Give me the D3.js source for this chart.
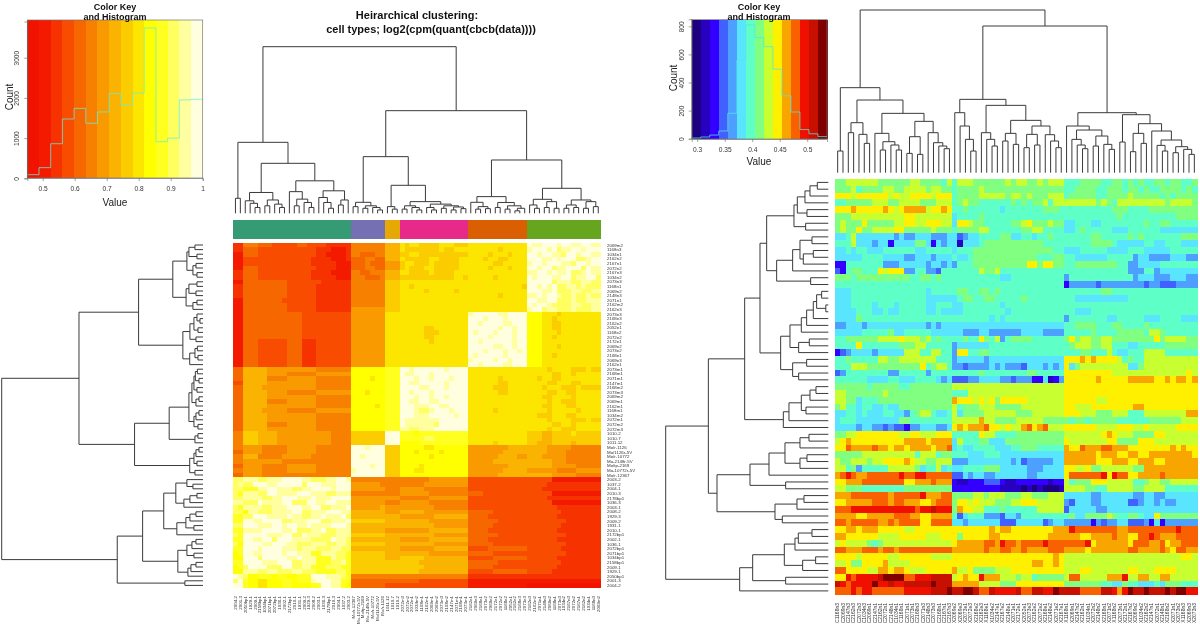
<!DOCTYPE html>
<html><head><meta charset="utf-8"><style>html,body{margin:0;padding:0;background:#fff}svg{display:block;font-family:"Liberation Sans",Arial,sans-serif;filter:blur(0.4px)}</style>
<script src="https://cdn.jsdelivr.net/npm/d3@7"></script></head><body><svg id="c" width="1200" height="628"></svg>
<script>
// ---------- data ----------
const heatPalette=["#f21200","#f41a00","#f63200","#f84c00","#f76700","#f88000","#f99a00","#fab300","#fbcc00","#fce600","#ffff00","#ffff20","#ffff60","#ffff9f","#ffffdf"];
const jetPalette=["#1c007f","#2800c0","#3300ff","#4060ff","#4da0ff","#5ae5ff","#5fffc8","#80ff80","#c8ff30","#fff000","#f8a500","#f86000","#f01000","#c81000","#800000"];
const sideBarColors=["#349b74","#7570b3","#e6a805","#e72a8a","#d95f02","#66a61e"];
const leftGroups=[24,7,3,14,12,15];
const rightGroups=[22,21,25];
const leftHist=[90,265,860,1475,1740,1370,1650,2105,1825,2120,3740,910,1000,1950,1965];
const rightHist=[5,12,26,55,181,560,810,720,655,495,305,190,65,35,15];
const leftTicksX=[0.5,0.6,0.7,0.8,0.9,1];
const leftTicksY=[0,1000,2000,3000];
const rightTicksX=[0.3,0.35,0.4,0.45,0.5];
const rightTicksY=[0,200,400,600,800];
const titleLines=["Heirarchical clustering:","cell types; log2(cpm(quant(cbcb(data))))"];
const rowLabels=["2069m2","1168n3","1034n1","2162n2","2167n1","2072n2","2167n3","1034n2","2073n3","1168n1","2069n2","2148n3","2071n1","2162m2","2162n3","2073e3","2168e3","2162e2","2052e1","1168e2","2072e2","2172e1","2069e2","2073e2","2168e1","2069e3","2162e1","2073m1","2168m1","2071m1","2147m1","2168m2","2073m3","2069m2","2069m1","2162m1","1168m1","1034m2","2072m1","2072m2","2072m3","1010-2","1010-7","1011.12","Mo/r-1126","Mo/1126r-5V","Mo/r-10772","Mo-2148r-5V","Mo/tp-2169","Mo-10772r-5V","Mo/r-12367","2003-2","1037-2","2004-1","2010-3","2178bp1","1036-3","2003-1","2008-2","1929-3","2009-2","1931-1","2010-1","2172bp1","2002-1","1036-1","2072bp1","2071bp1","1034bp1","2158bp1","2009-1","1929-1","2050bp1","2001-3","2004-2"];
const colLabelsRight=["C1168n3","C2069n3","C2147n3","C2162n3","C2072n3","C1034n3","C2069n1","C2147n1","C2162n1","C2072n1","C2148n1","C1034n1","C1168n1","C2071n1","C2073n1","C2168n3","C2071n3","C2148n3","C2073n3","C2168n1","C2167n1","C2167n3","X2069e2","X2069e3","X2073e1","X2072e3","X2168e2","X2162e3","X1168e1","X1034e2","X2147e1","X2167e2","X2148e1","X2071e1","X2172e1","X2052e1","X2073e3","X2162e2","X2072e2","X2168e1","X2148e2","X2071e2","X2167e1","X1168n1","X2069n1","X2147n2","X2162n1","X1034n1","X2072n2","X2148n2","X2168n1","X2071n2","X1168n2","X2073n1","X2172n1","X2167n2","X2069n2","X1034n2","X2162n2","X2147n1","X2072n1","X2148n1","X2168n2","X2071n1","X2073n2","X1168n3","X2069n3","X2073n3"];

// level runs per row: first character is the colour level (hex), the rest the run length; "|" separates column groups
const leftRows=[
"22 53 43 35 42 34 26|57|73|91 81 92 84 93 83|912|e1 d2 e3 d1 e2 d2 e2 d2",
"22 43 36 32 34 23 13 22|57|73|91 87 91 82 93|96 81 95|d1 e3 d1 e1 c1 d2 e2 d1 e3",
"12 43 36 32 34 22 14 22|52 43 52|73|82 92 86 82 82|94 81 93 81 93|e2 d1 e2 d2 c1 e2 d1 e2 d2",
"12 33 35 33 33 24 13 22|43 52 42|73|91 85 92 83 81 92|93 81 92 82 94|e3 d2 e1 d1 e3 c2 d1 e2",
"12 33 36 32 33 25 14|43 51 43|63|81 92 83 91 83 82 92|95 82 95|d1 e2 d1 e3 d2 c1 e2 d1 e2",
"12 43 35 33 34 24 14|43 52 42|63|81 91 83 92 85 92|94 81 93 81 93|e2 d1 e2 c1 d2 e3 c1 e1 d2",
"22 43 36 32 33 24 15|52 42 53|73|92 84 91 84 93|912|d2 e2 d1 e1 d2 e1 c2 d1 e1 d2",
"22 43 36 33 32 25 14|53 43 51|73|87 81 83 92 81|95 81 96|e1 d1 e3 d2 e2 c1 d2 e2 c1",
"12 43 46 33 34 27|57|83|914|912|e5 c1 d3 c2 d2 c2",
"22 43 46 33 33 28|57|83|92 81 911|911 81|e2 d1 e1 d1 e1 c2 d2 c1 d1 c3",
"22 43 46 32 34 28|57|83|95 81 95 81 92|912|e3 d2 e1 c3 d2 c2 d2",
"22 43 46 33 33 28|57|83|914|96 81 95|d2 e1 d1 e2 d1 c2 d1 c2 d1 c2",
"12 43 45 34 33 28|57|83|914|912|e2 d2 e2 c3 d1 c2 d3",
"12 43 46 33 33 28|57|83|914|912|e1 d1 e2 d1 c4 d2 c2 d2",
"12 43 46 33 33 28|67|83|914|912|d1 e2 c1 d2 c3 d1 c3 d2",
"12 43 46 43 33 38|67|93|914|d1 e5 d2 e4|a3 93 81 98",
"12 43 46 43 33 38|67|93|914|e3 d1 e3 d1 e4|a3 92 81 99",
"12 43 46 43 33 38|67|93|914|e2 d1 e4 d2 e3|a3 92 82 98",
"12 43 46 43 33 38|67|93|95 82 97|e6 d1 e2 d1 e2|a3 92 82 98",
"12 43 46 43 33 38|67|93|95 83 96|e1 d1 e3 d1 e3 d1 e2|a3 93 81 98",
"12 43 46 43 33 38|67|93|95 82 97|e4 d1 e4 d1 e2|a3 92 81 99",
"12 43 36 43 23 38|67|93|96 81 97|e2 d1 e6 d1 e2|a3 915",
"12 43 36 43 23 38|67|93|914|e5 d2 e2 d1 e2|a3 93 81 98",
"12 43 36 43 23 38|67|93|914|e3 d1 e3 d1 e2 d1 e1|a3 912",
"12 43 36 43 23 38|67|93|914|e1 d1 e5 d1 e4|a3 92 81 99",
"12 43 36 43 23 38|67|93|914|d1 e4 d1 e2 d1 e3|a3 912",
"12 43 36 43 23 38|67|93|914|e2 d1 e4 d2 e3|a3 912",
"42 75 64 66 58|a7|b3|e2 d1 e6 d1 e4|912|94 81 94 83 91 82",
"42 75 64 56 68|a7|b3|e1 d2 e3 d1 e7|912|95 82 92 81 95",
"42 75 54 66 58|a4 91 a2|b3|e3 d1 e2 d1 e3 d1 e3|96 81 95|92 81 92 82 96",
"32 75 64 66 58|a7|b3|e2 d2 e5 d1 e4|96 82 94|94 82 93 82 94",
"42 74 65 66 58|a7|b3|e4 d2 e3 d1 e4|95 83 94|93 81 93 83 91 84",
"42 75 64 56 68|a3 91 a3|b3|e2 d1 e3 d1 e7|96 82 94|94 82 92 82 95",
"42 75 64 66 58|a7|b3|e3 d1 e2 d1 e2 d1 e4|912|93 82 94 81 95",
"42 75 54 66 58|a7|b3|e2 d2 e2 d2 e6|912|94 81 92 83 95",
"42 75 64 66 58|a5 91 a1|b3|e3 d3 e2 d2 e4|912|93 82 93 82 95",
"42 74 65 56 68|a7|b3|e3 d1 c2 d1 e3 d1 e3|95 81 96|94 81 95 81 94",
"42 75 64 66 58|a7|b3|e3 d3 e5 d1 e2|912|92 83 93 82 95",
"42 75 64 66 58|a7|b3|e1 d7 e6|912|94 81 94 83 91 82",
"42 75 54 66 58|a7|b3|e1 d6 c1 e6|912|95 82 92 81 95",
"42 75 64 66 58|a7|b3|d2 c2 d3 e7|912|94 81 92 83 95",
"52 83 74 66 65 55|87|e3|b3 a1 b10|912|83 72 84 91 85",
"52 83 74 66 65 55|87|e3|b5 c2 b7|912|83 72 85 82 83",
"52 83 74 66 65 55|87|e3|a4 b10|95 81 96|82 73 84 71 85",
"52 64 55 66 58|e3 d1 e3|83|a5 92 a7|68 74|74 65 56",
"42 64 55 66 58|e7|83|a3 91 a4 91 a5|67 75|74 64 57",
"52 73 55 66 59|e2 d1 e4|83|a6 91 a7|66 74 62|73 65 57",
"52 64 64 56 59|e7|83|a14|65 77|75 63 57",
"42 64 55 66 58|e4 d1 e2|83|a4 91 a9|68 74|75 65 55",
"52 64 55 66 58|d1 e6|83|a3 92 a9|67 75|66 54 65",
"42 64 55 57 57|e7|83|a14|66 76|75 65 55",
"c2 d3 c2 d3 e4 d2 c3 d2 e2 d2|57|53|56 68|34 38|35 110",
"c1 d1 c2 e3 d2 e5 c1 e3 d3 e4|66 51|53|55 69|35 37|34 211",
"c2 b3 d2 e2 d3 c2 d2 e4 d1 e4|67|53|65 59|33 39|33 212",
"c1 b1 d3 c2 e2 d4 e3 d3 c2 d4|57|53|66 58|43 39|35 110",
"c2 d4 c2 d2 e3 d3 e1 d3 e4 d1|67|63|56 68|34 38|34 211",
"d2 c3 e1 d4 e2 c3 e2 d2 e2 d3 c1|67|53|66 58|35 37|35 110",
"c1 b1 d4 c2 d3 e3 d2 e2 c2 d3 e2|66 71|63|67 57|34 38|36 29",
"c2 a1 d2 c3 d4 e2 c2 d3 e3 d3|77|63|75 69|45 37|37 28",
"b2 c2 e3 d4 e1 d2 c2 d2 e1 d3 e1 c2|77|73|67 77|44 38|36 29",
"b2 e2 d2 e4 c2 d3 e3 c2 d3 e2|87|73|76 68|46 36|38 27",
"c2 e3 d3 e2 d1 e2 d2 e1 d4 e3 d2|77|73|77 67|45 37|37 28",
"b2 d4 e4 d2 e1 c3 d2 e1 c2 d4|77|63|66 78|44 38|36 29",
"c1 b1 e5 d3 e2 c2 e1 d3 c3 d4|87|73|77 67|46 36|38 27",
"b2 e2 d2 e2 c1 e3 d4 c4 e1 d2 c2|77|73|66 78|44 38|36 29",
"c1 a1 e4 d2 e3 d2 c3 d3 c2 d2 c2|87|73|77 67|45 37|38 27",
"b2 e3 d1 e4 d3 c1 d3 c3 d2 c3|77|73|67 77|34 48|37 28",
"a1 b1 e2 d2 e4 d1 e2 d3 b2 d3 c2 b2|87|73|76 68|45 37|38 27",
"a2 e3 c1 e5 d2 e1 d3 b3 d1 c2 b2|87|73|85 79|35 47|36 29",
"b2 e4 d3 e3 c2 d3 b3 c2 d1 b2|87|83|84 710|46 36|37 28",
"a1 b1 c1 e4 c3 e2 c2 d2 b3 c3 b3|87|83|85 79|45 37|36 29",
"a2 d3 c2 d2 c3 d2 c3 b4 c2 b2|87|83|84 710|35 47|35 210",
"e1 d1 c1 a2 b3 a1 b2 a2 b3 e3 d3 c1 b1|57|53|514|212|215",
"c1 e1 b1 a2 92 a3 b2 a1 b3 d1 e3 d2 b2|47|43|44 310|112|115",
"e2 b1 a2 92 a3 b2 a4 b2 e2 d2 b1 a1|47|33|314|112|015"
];
const rightRows=[
"72 86 76 82 74 61 81|61 83 76 81 71 82 72 81 71 83|63 74 62 72 61 71 61 71 62 72 61 72 62 71",
"73 81 61 74 82 72 84 71 82 71|61 74 81 715|62 74 62 73 61 72 61 71 62 74 61 71 61",
"93 81 96 81 91 82 94 81 93|61 74 85 71 82 71 81 73 83|61 75 62 74 81 75 61 71 61 74",
"62 75 83 72 84 73 83|61 71 81 72 66 71 61 71 61 72 81 61 82|86 71 81 71 61 89 71 84 71",
"93 a1 95 a1 91 81 91 a4 81 92 a1 91|62 71 66 51 67 73 61|69 73 64 79",
"73 810 92 87|51 64 71 615|610 71 610 74",
"71 81 73 91 71 74 82 92 82 93 82|51 92 81 72 65 72 81 91 73 81 72|52 63 52 68 71 62 72 65",
"71 81 72 91 72 84 92 75 81 73|61 74 82 66 72 82 64|52 61 71 65 53 66 57",
"52 61 81 57 41 51 42 53 43 51|51 31 41 52 64 72 52 62 51 62 71 62|65 72 65 71 61 71 67 73",
"63 81 53 41 52 21 54 72 51 21 51 41 51|51 11 53 61 711 64|65 74 61 55 62 52 63 53",
"52 61 51 62 53 66 52 65|51 63 715 62|53 65 54 63 55 65",
"55 64 54 42 53 41 53|61 52 61 712 63 72|62 56 65 41 52 44 53 42",
"22 67 43 55 41 52 41 51|41 63 710 92 71 92 72|62 78 62 42 54 67",
"31 21 61 72 63 91 81 93 42 62 42 31 62|65 81 72 81 612|612 43 62 41 57",
"73 61 710 62 72 61 71 62|69 52 610|41 612 41 53 43 53 41 41",
"622|621|21 45 31 48 31 42 33 44",
"53 614 51 64|61 72 62 72 61 71 612|67 72 616",
"53 614 55|51 61 72 62 72 65 71 67|62 510 613",
"53 64 51 63 51 65 52 63|52 67 51 611|625",
"54 63 52 61 52 65 52 61 52|52 68 51 610|62 53 620",
"54 71 617|65 62 51 61 51 611|41 67 52 65 53 64 53",
"42 53 41 511 41 51 41 52|521|62 74 63 72 64 71 69",
"55 65 71 52 65 54|52 43 52 46 54 44|65 71 64 75 61 82 71 66",
"62 76 84 91 83 71 81 61 71 62|62 71 62 91 71 61 81 41 61 74 61 65|71 91 71 82 72 82 78 91 71 84 72",
"64 91 67 73 82 65|41 56 614|61 71 83 72 82 63 52 65 76",
"21 31 41 54 41 55 83 62 82 62|41 92 62 72 614|63 72 63 81 61 52 63 84 66",
"62 71 65 82 72 87 63|41 55 41 514|93 a1 91 a1 94 81 61 71 62 810",
"63 83 710 91 61 71 82 61|42 31 44 51 41 51 43 31 53 41 51 41 51|91 51 71 89 52 71 810",
"31 41 68 42 65 41 64|65 71 68 72 65|99 814 91 81",
"66 54 62 53 64 51 41 51|33 42 54 42 31 43 22 51 11 21 41|96 a1 95 a5 92 a1 91 a2 91 a1",
"76 61 75 62 78|821|925",
"82 77 81 712|63 818|925",
"82 72 51 63 76 78|a1 93 81 91 81 91 71 95 87|96 82 917",
"71 81 62 51 62 52 61 52 710|81 61 73 83 75 88|92 83 98 a2 910",
"52 62 51 61 53 62 52 41 61 71 82 61 52 61|81 51 74 86 73 86|93 83 73 83 63 88 a2",
"51 63 58 72 62 66|85 a1 82 74 85 74|71 61 72 61 75 64 62 72 71 73 83",
"54 41 52 42 31 41 32 21 42 53 42 51|91 a1 91 a3 b1 92 81 91 82 a1 b1 91 a1 b1 83|96 84 93 82 91 85 94",
"72 82 98 82 92 83 93|65 91 82 64 79|87 91 a1 91 83 74 92 82 84",
"81 91 a1 910 a4 91 a4|51 81 63 72 53 74 77|91 87 92 74 93 82 86",
"92 b1 a1 a3 b1 a2 91 a2 91 a4 91 a2 b1|51 61 52 64 53 62 73 65|a1 92 b1 a3 b2 a3 98 a1 91 a1 92",
"75 810 61 83 61 72|63 53 63 512|a6 91 a3 92 a2 92 a8 91",
"81 72 83 71 82 94 a1 91 82 72 83|43 58 41 51 31 45 52|a6 93 a3 92 a3 92 a6",
"82 61 71 41 65 85 71 51 62 81 51 61|52 64 73 52 53 43 54|92 82 91 72 83 83 72 a10",
"a1 b1 c1 b1 a2 b6 c1 b2 c2 b5|32 51 41 52 42 56 42 55|91 b6 c1 91 c1 b2 92 a4 b1 a6",
"92 a3 b8 92 a3 b1 a3|21 12 23 33 21 12 26 11 22|81 61 73 93 85 62 71 82 72 85",
"82 73 63 65 79|29 14 01 11 01 11 03 11|84 72 62 85 72 84 66",
"a3 b7 a1 b5 c1 a3 b2|74 82 71 83 73 82 73 83|55 42 56 42 52 42 56",
"92 a5 b3 a1 b2 a3 92 a1 b3|71 92 81 91 83 73 82 93 85|41 31 53 42 55 32 41 52 41 51 42 54",
"b3 c12 b1 c2 d1 c3|71 a1 92 82 63 71 66 85|31 55 42 517",
"a4 92 a5 b3 a2 92 a4|61 31 51 63 43 31 52 41 68|61 71 52 74 81 71 62 72 61 52 91 71 76",
"b2 a1 b5 a2 b1 a1 b4 92 b4|52 41 56 31 32 55 31 41 52|45 21 41 31 42 52 33 41 21 51 21 46",
"92 a2 91 a3 95 82 97|97 a1 91 a2 98 a2|a1 c1 b8 a2 b9 c1 b3",
"a2 96 84 95 83 92|91 71 95 a2 99 a3|a3 92 a4 b1 a2 92 b2 c1 b1 a3 b4",
"81 91 84 71 61 71 84 89|91 a5 b2 a1 c1 b2 a1 b4 c1 b3|b4 c1 91 a6 91 b3 a2 b1 91 a2 b3",
"b2 a3 b3 a1 b2 a1 b10|a6 b1 a2 b2 a2 b1 a3 a1 b3|a4 91 a7 b2 a4 b1 a1 91 b2 a2",
"94 81 95 82 96 84|919 a1 91|822 92 81",
"82 91 72 94 a1 84 98|915 a2 92 a1 91|825",
"b2 94 82 a2 91 a2 91 83 95|a1 82 91 74 83 910|83 92 87 92 83 94 84",
"92 c1 b1 c4 d1 e4 b2 c3 d4|81 91 a1 92 c1 a3 83 71 82 61 75|81 b2 85 a3 c1 82 a2 82 a2 83",
"d1 c1 b1 c4 e1 c2 d1 c2 d5 e1 d3|a5 84 73 99|77 62 52 71 62 53 61 51 73 63",
"b3 c1 b1 c2 b6 c3 c2 d3 e1|d2 e2 d1 b2 d1 c4 d1 b2 d2 c2 e1 d1|d3 b4 d2 c1 a1 c1 e1 d2 e1 d3 e1 d1 e2 c2"
];

// merge trees: [merge height, child, child]; 0 is a leaf
const leftTree=[100,
 [42.6,[9,0,0],[30,
   [12.5,[7.5,0,[6,0,[3.5,0,0]]],[8,[4.5,0,0],[5.5,0,[3.5,0,0]]]],
   [19.5,[13,0,[8.5,[4.5,0,0],[6.5,0,[3.5,0,0]]]],[13.5,[9.5,0,[6.5,0,[3,0,0]]],[8,[5,0,0],0]]]]],
 [61.6,
  [34,[6.6,[4,0,0],[4.5,[3,0,0],[3.5,0,[2,0,0]]]],
      [16.8,[4,0,[2.5,0,0]],
       [7,[4.5,[2.5,0,0],[3.5,0,[2,0,0]]],[5.5,[3.5,0,[2,0,0]],[4.5,[3,0,0],[3.8,[2,0,0],[2.8,0,0]]]]]]],
  [32,[10,[6.6,0,[4,[2.5,0,0],[2.8,0,0]]],[6.5,[3.5,0,0],[4.5,[2.5,0,0],[3,[1.5,0,0],0]]]],
      [15,[8.4,[5,0,[3,0,0]],[7,[3.5,0,0],[3,0,0]]],[8,[5,[3,0,0],[3.5,0,0]],[7,[3,0,0],[4,0,0]]]]]]];

const rightColTree=[97.6,
 [51,[13,0,0],[43.6,
   [30,[24,0,0],[23,0,[17.6,0,0]]],
   [35.6,[23.6,0,[18.6,[13.6,0,0],[16.6,0,[13.6,0,0]]]],
         [30.8,[21.6,[11.6,0,0],[11,0,0]],[24,0,[18,0,[16,0,[14.4,0,0]]]]]]]],
 [88,
  [44,[36,0,[28,0,[20,0,[13,0,0]]]],
      [40.4,[24,0,[20,0,[16,0,0]]],
       [31.4,[23.6,[19,0,0],[17,0,0]],
        [28,[23,[15,0,0],[16.6,0,0]],[22.8,0,[19,0,[15,0,0]]]]]]],
  [36,[28,0,[25.6,[20,0,[16.6,0,[14.4,0,0]]],[22,[16,0,0],[17,0,[14,0,0]]]]],
      [34.8,[18.4,0,0],[29.4,[23.6,[12.6,0,0],[17.6,0,0]],
        [25,0,[19.6,[16.4,0,[13,0,0]],[15.6,[12,0,0],[14,0,[11,0,0]]]]]]]]]];

const rightRowTree=[97.6,
 [72,
  [50.2,
   [41,
    [37,
     [20.6,[18.6,[14,[11,[6.6,0,0],0],0],[12.8,0,0]],[13.6,0,0]],
     [31,[21.4,[17,[9.8,0,0],[15,[9,0,0],0]],0],[10.6,0,0]]],
    [28.6,
     [23,[16.2,[13,[9,[7,[4,0,0],[1.5,0,0]],0],0],0],[17.8,[11.4,0,0],0]],
     [21.4,[13,0,0],[17.8,0,0]]]],
   [27,[23.6,[16.2,[11,[7.4,0,0],0],[13.4,0,0]],0],0]],
  [66.8,
   [47,[35.6,[26,[17,[11.6,0,0],0],[17,[12.8,0,0],0]],0],[25.6,0,0]],
   [32,[18.8,[14.6,0,0],0],[27.6,0,0]]]],
 [53.2,
  [45.4,
   [26.4,[20,[18,[9.8,0,0],0],0],[15.4,[7.6,0,0],0]],
   [25.6,0,0]],
  0]];

// ---------- helpers ----------
const svg=d3.select("#c");
svg.append("rect").attr("width",1200).attr("height",628).attr("fill","#fff");
function expand(row,sizes){
  return row.split("|").flatMap((seg,i)=>{
    const out=[];
    seg.trim().split(/\s+/).forEach(t=>{const lv=parseInt(t[0],16),n=+t.slice(1);for(let k=0;k<n;k++)out.push(lv);});
    while(out.length<sizes[i])out.push(out[out.length-1]);
    return out.slice(0,sizes[i]);
  });
}
function drawMatrix(rows,sizes,palette,x0,x1,y0,y1){
  const nCol=d3.sum(sizes),matrix=rows.map(r=>expand(r,sizes));
  const x=d3.scaleLinear().domain([0,nCol]).range([x0,x1]);
  const y=d3.scaleLinear().domain([0,matrix.length]).range([y0,y1]);
  const cells=matrix.flatMap((r,i)=>r.map((v,j)=>({i,j,v})));
  svg.append("g").attr("shape-rendering","crispEdges").selectAll("rect").data(cells).join("rect")
    .attr("x",d=>x(d.j)).attr("y",d=>y(d.i))
    .attr("width",x(1)-x(0)+0.6).attr("height",y(1)-y(0)+0.6)
    .attr("fill",d=>palette[d.v]);
  return {x,y};
}
function toNode(t){return Array.isArray(t)?{h:t[0],children:[toNode(t[1]),toNode(t[2])]}:{h:0};}
function drawTree(tree,horizontal,hScale,leafPos){
  const root=d3.hierarchy(toNode(tree));
  const n=root.leaves().length;
  root.leaves().forEach((l,i)=>{l.p=leafPos(i,n);});
  root.eachAfter(nd=>{if(nd.children)nd.p=(nd.children[0].p+nd.children[1].p)/2;});
  const segs=[];
  root.each(nd=>{if(nd.children){
    const [a,b]=nd.children,H=hScale(nd.data.h);
    segs.push([[a.p,hScale(a.data.h)],[a.p,H],[b.p,H],[b.p,hScale(b.data.h)]]);
  }});
  const line=d3.line().x(d=>horizontal?d[1]:d[0]).y(d=>horizontal?d[0]:d[1]);
  svg.append("g").selectAll("path").data(segs).join("path")
    .attr("d",line).attr("fill","none").attr("stroke","#3a3a3a").attr("stroke-width",1);
}
function drawKey(o){
  const x=d3.scaleLinear().domain(o.xDomain).range(o.xRange);
  const y=d3.scaleLinear().domain([0,o.yMax]).range([o.yBase,o.yBase-o.yMax*o.yPx]);
  const binW=(o.xDomain[1]-o.xDomain[0])/o.palette.length;
  const g=svg.append("g");
  g.append("g").attr("shape-rendering","crispEdges").selectAll("rect").data(o.palette).join("rect")
    .attr("x",(d,i)=>x(o.xDomain[0]+i*binW)).attr("width",x(o.xDomain[0]+binW)-x(o.xDomain[0])+0.5)
    .attr("y",o.top).attr("height",o.bottom-o.top).attr("fill",d=>d);
  const pts=[];
  o.hist.forEach((c,i)=>{pts.push([x(o.xDomain[0]+i*binW),y(c)],[x(o.xDomain[0]+(i+1)*binW),y(c)]);});
  g.append("path").attr("d",d3.line()(pts)).attr("fill","none").attr("stroke",o.trace).attr("stroke-width",1).attr("opacity",0.75);
  g.append("rect").attr("x",o.xRange[0]).attr("y",o.top).attr("width",o.xRange[1]-o.xRange[0]).attr("height",o.bottom-o.top)
    .attr("fill","none").attr("stroke","#777").attr("stroke-width",0.7);
  const ax=d3.axisBottom(x).tickValues(o.ticksX).tickFormat(d3.format("")).tickSize(3).tickPadding(5);
  const gx=g.append("g").attr("transform",`translate(0,${o.bottom})`).call(ax);
  const ay=d3.axisLeft(y).tickValues(o.ticksY).tickSize(3).tickFormat(d3.format("d"));
  const gy=g.append("g").attr("transform",`translate(${o.xRange[0]},0)`).call(ay);
  [gx,gy].forEach(s=>{s.select(".domain").attr("stroke","#666").attr("stroke-width",0.6);
    s.selectAll("line").attr("stroke","#666").attr("stroke-width",0.6);
    s.selectAll("text").attr("font-size",6.6).attr("fill","#333").attr("font-family","Liberation Sans");});
  gy.selectAll("text").attr("text-anchor","middle").attr("x",0).attr("dy",0).attr("y",-o.yTickGap).attr("transform","rotate(-90)");
  const cx=o.titleX;
  g.append("text").attr("x",cx).attr("y",o.titleY).attr("text-anchor","middle").attr("font-weight","bold").attr("font-size",9).attr("fill","#111").text("Color Key");
  g.append("text").attr("x",cx).attr("y",o.titleY+10).attr("text-anchor","middle").attr("font-weight","bold").attr("font-size",9).attr("fill","#111").text("and Histogram");
  g.append("text").attr("x",o.valueX).attr("y",o.valueY).attr("text-anchor","middle").attr("font-size",10).attr("fill","#222").text("Value");
  g.append("text").attr("transform",`translate(${o.countX},${o.countY}) rotate(-90)`).attr("text-anchor","middle").attr("font-size",10).attr("fill","#222").text("Count");
}

// ---------- left panel ----------
drawKey({palette:heatPalette,hist:leftHist,trace:"#66eedd",xDomain:[0.452,1],xRange:[27.3,202.7],top:20,bottom:178,
  yBase:178.3,yPx:0.0402,yMax:3900,ticksX:leftTicksX,ticksY:leftTicksY,yTickGap:8,titleX:115,titleY:10,valueX:115,valueY:206,countX:13,countY:97});
const topH=d3.scaleLinear().domain([0,100]).range([213.3,46.7]);
const LX0=233,LX1=600.7,LY0=242.7,LY1=587.7;
drawTree(leftTree,false,topH,(i,n)=>LX0+(i+0.5)*(LX1-LX0)/n);
const sideH=d3.scaleLinear().domain([0,100]).range([203,1.7]);
drawTree(leftTree,true,sideH,(i,n)=>LY1-(i+0.5)*(LY1-LY0)/n);
const barX=d3.scaleLinear().domain([0,d3.sum(leftGroups)]).range([LX0,LX1]);
const barStart=d3.cumsum([0].concat(leftGroups));
svg.append("g").attr("shape-rendering","crispEdges").selectAll("rect").data(sideBarColors).join("rect")
  .attr("x",(d,i)=>barX(barStart[i])).attr("width",(d,i)=>barX(leftGroups[i])-barX(0)+0.3)
  .attr("y",220).attr("height",18.7).attr("fill",d=>d);
const lm=drawMatrix(leftRows,leftGroups,heatPalette,LX0,LX1,LY0,LY1);
svg.append("g").selectAll("text").data(rowLabels).join("text")
  .attr("x",607).attr("y",(d,i)=>lm.y(i+0.5)+1.5).attr("font-size",4.4).attr("fill","#333").text(d=>d);
svg.append("g").selectAll("text").data(rowLabels.slice().reverse()).join("text")
  .attr("transform",(d,i)=>`translate(${lm.x(i+0.5)+1.5},596) rotate(-90)`).attr("text-anchor","end")
  .attr("font-size",4.4).attr("fill","#333").text(d=>d);
const titleY=[19,33],titleX=[417,431];
svg.append("g").selectAll("text").data(titleLines).join("text")
  .attr("x",(d,i)=>titleX[i]).attr("y",(d,i)=>titleY[i]).attr("text-anchor","middle")
  .attr("font-weight","bold").attr("font-size",11).attr("fill","#111").text(d=>d);

// ---------- right panel ----------
drawKey({palette:jetPalette,hist:rightHist,trace:"#55e5dd",xDomain:[0.29,0.5359],xRange:[691.7,827],top:19.5,bottom:139,
  yBase:138.7,yPx:0.1405,yMax:850,ticksX:rightTicksX,ticksY:rightTicksY,yTickGap:8,titleX:759,titleY:10,valueX:759,valueY:165,countX:677,countY:78});
const RX0=835,RX1=1197,RY0=179,RY1=594.3;
const colH=d3.scaleLinear().domain([0,97.6]).range([172.7,10]);
drawTree(rightColTree,false,colH,(i,n)=>RX0+(i+0.5)*(RX1-RX0)/n);
const rowH=d3.scaleLinear().domain([0,97.6]).range([828.3,665.7]);
drawTree(rightRowTree,true,rowH,(i,n)=>RY0+(i+0.5)*(RY1-RY0)/n);
const rm=drawMatrix(rightRows,rightGroups,jetPalette,RX0,RX1,RY0,RY1);
svg.append("g").selectAll("text").data(colLabelsRight).join("text")
  .attr("transform",(d,i)=>`translate(${rm.x(i+0.5)+1.7},603) rotate(-90)`).attr("text-anchor","end")
  .attr("font-size",5).attr("fill","#333").text(d=>d);
</script></body></html>
